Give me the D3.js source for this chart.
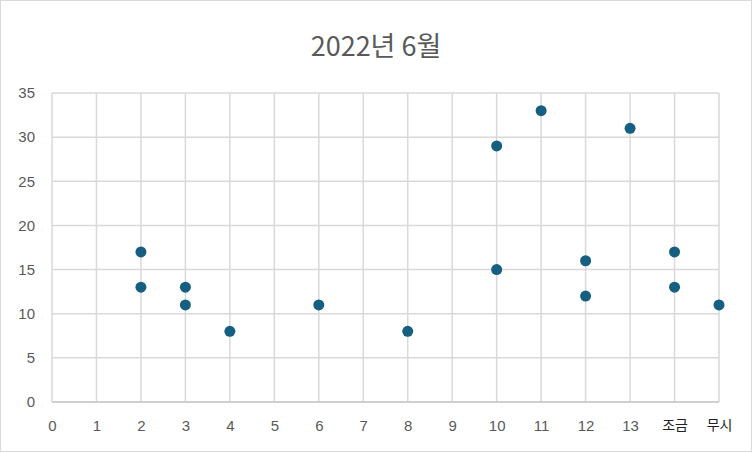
<!DOCTYPE html>
<html>
<head>
<meta charset="utf-8">
<script src="https://cdn.jsdelivr.net/npm/d3@7"></script>
<style>
  body { margin: 0; background: #fff; }
  svg { display: block; }
  .tick text { font-family: "Liberation Sans", Arial, sans-serif; }
</style>
</head>
<body>
<svg class="chart" width="752" height="452"></svg>
<script>
var categories = ['0', '1', '2', '3', '4', '5', '6', '7', '8', '9', '10', '11', '12', '13', '조금', '무시'];
var pointCats = ['2', '2', '3', '3', '4', '6', '8', '10', '10', '11', '12', '12', '13', '조금', '조금', '무시'];
var pointValues = [17, 13, 13, 11, 8, 11, 8, 29, 15, 33, 16, 12, 31, 17, 13, 11];
var yTicks = [0, 5, 10, 15, 20, 25, 30, 35];

(function() {
  var svg = d3.select('.chart');
  var width = 752, height = 452;
  var margin = { left: 52, right: 33, top: 93, bottom: 50 };

  svg.append('rect')
    .attr('x', 0.5).attr('y', 0.5)
    .attr('width', width - 1).attr('height', height - 1)
    .attr('fill', '#fff')
    .attr('stroke', '#d9d9d9');

  var x = d3.scalePoint()
    .domain(categories)
    .range([margin.left, width - margin.right]);

  var y = d3.scaleLinear()
    .domain([0, 35])
    .range([height - margin.bottom, margin.top]);

  // grid
  svg.append('g')
    .selectAll('line.h')
    .data(yTicks)
    .enter().append('line')
      .attr('x1', margin.left).attr('x2', width - margin.right)
      .attr('y1', function(d) { return y(d); })
      .attr('y2', function(d) { return y(d); })
      .attr('stroke', '#d9d9d9')
      .attr('stroke-width', 1.5);

  svg.append('g')
    .selectAll('line.v')
    .data(categories)
    .enter().append('line')
      .attr('x1', function(d) { return x(d); })
      .attr('x2', function(d) { return x(d); })
      .attr('y1', y(0)).attr('y2', y(35))
      .attr('stroke', '#d9d9d9')
      .attr('stroke-width', 1.5);

  // axis lines
  svg.append('line')
    .attr('x1', margin.left).attr('x2', width - margin.right)
    .attr('y1', y(0)).attr('y2', y(0))
    .attr('stroke', '#c8c8c8').attr('stroke-width', 1.5);

  var yAxis = svg.append('g')
    .attr('transform', 'translate(' + margin.left + ',0)')
    .call(d3.axisLeft(y).tickValues(yTicks).tickSize(0).tickPadding(17));
  yAxis.select('.domain').remove();
  yAxis.selectAll('text')
    .attr('fill', '#595959')
    .style('font-size', '15px');

  var xAxis = svg.append('g')
    .attr('transform', 'translate(0,' + y(0) + ')')
    .call(d3.axisBottom(x).tickSize(0).tickPadding(18));
  xAxis.select('.domain').remove();
  xAxis.selectAll('text')
    .attr('fill', function(d) { return isNaN(+d) ? '#222' : '#595959'; })
    .style('font-size', function(d) { return isNaN(+d) ? '14px' : '15px'; })
    .style('font-family', function(d) { return isNaN(+d) ? '"Noto Sans CJK KR", sans-serif' : null; });

  // points
  svg.append('g')
    .selectAll('circle')
    .data(pointValues)
    .enter().append('circle')
      .attr('cx', function(d, i) { return x(pointCats[i]); })
      .attr('cy', function(d) { return y(d); })
      .attr('r', 5.5)
      .attr('fill', '#165f81');

  svg.append('text')
    .attr('x', width / 2)
    .attr('y', 56)
    .attr('text-anchor', 'middle')
    .attr('fill', '#595959')
    .style('font-family', '"Noto Sans CJK KR", "Noto Sans", sans-serif')
    .style('font-size', '27px')
    .text('2022년 6월');
})();
</script>
</body>
</html>
